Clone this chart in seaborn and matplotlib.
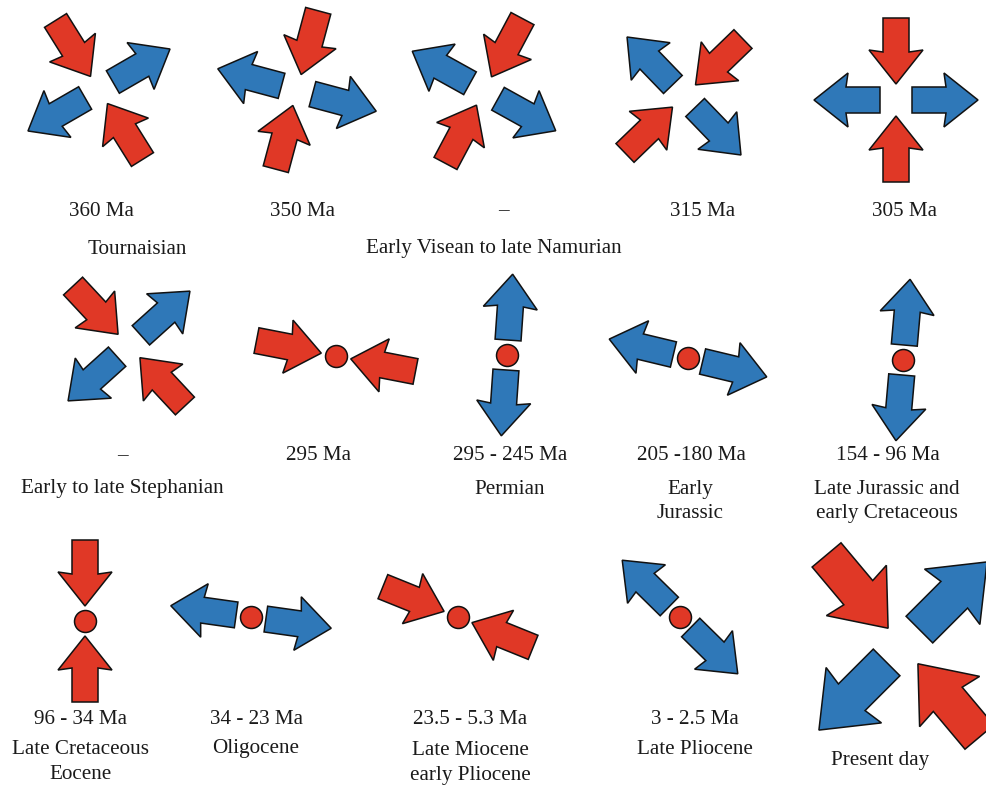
import numpy as np
import pandas as pd
import matplotlib
matplotlib.use("Agg")
import matplotlib.pyplot as plt
import seaborn as sns
from matplotlib.patches import Polygon

# ---------------- data ----------------
# stress-axis azimuths (degrees, counter-clockwise from east) per panel
compression_axis = [-58, 75, 62, 44, 90, -47, -11, None, None, None, 90, None, -22, None, -50]
extension_axis = [30, -15, -29, -46, 0, 42, None, 86, -13.5, 85, None, -8, None, -44.5, 45]
has_pole = [False, False, False, False, False, False, True, True, True, True,
            True, True, True, True, False]
age_labels = ["360 Ma", "350 Ma", "–", "315 Ma", "305 Ma",
              "–", "295 Ma", "295 - 245 Ma", "205 -180 Ma", "154 - 96 Ma",
              "96 - 34 Ma", "34 - 23 Ma", "23.5 - 5.3 Ma", "3 - 2.5 Ma", ""]
period_labels = ["Tournaisian", "Early Visean to late Namurian",
                 "Early to late Stephanian", "Permian", "Early\nJurassic",
                 "Late Jurassic and\nearly Cretaceous",
                 "Late Cretaceous\nEocene", "Oligocene", "Late Miocene\nearly Pliocene",
                 "Late Pliocene", "Present day"]

# ---------------- layout (pixel canvas) ----------------
W, H = 986, 786
panel_centers = [(99, 90), (297, 90), (484, 91), (684, 96), (896, 100),
                 (129, 346), (336, 356), (507, 355), (688, 358), (903, 360),
                 (85, 621), (251, 617), (458, 617), (680, 617), (903, 646)]
panel_scale = [1.0] * 14 + [1.45]
age_pos = [(101, 211), (302, 211), (503, 211), (703, 211), (904, 211),
           (122, 456), (318, 456), (510, 456), (691, 456), (888, 456),
           (81, 720), (256, 720), (470, 720), (695, 720), (880, 720)]
period_pos = [(137, 249), (494, 249), (122, 489), (510, 489), (690, 501.5),
              (887, 501.5), (81, 762), (256, 749), (470, 763), (695, 750), (880, 760)]

RED = "#E03826"
BLUE = "#2F78B8"
L0, SHAFT, HEADW, HEADL, SWEEP, RIN, RIN_POLE = 66, 26, 54, 32, 2, 16, 15

sns.set_theme(style="white")
plt.rcParams["font.family"] = ["Liberation Serif", "DejaVu Serif"]

fig = plt.figure(figsize=(W / 100, H / 100), dpi=100)
ax = fig.add_axes([0, 0, 1, 1])


def draw_arrow(tail, tip, k, color):
    tail = np.asarray(tail, float)
    tip = np.asarray(tip, float)
    d = tip - tail
    L = np.hypot(*d)
    d = d / L
    n = np.array([-d[1], d[0]])
    hl, w, hw, sw = HEADL * k, SHAFT * k, HEADW * k, SWEEP * k
    local = [(0, -w / 2), (L - hl, -w / 2), (L - hl - sw, -hw / 2), (L, 0),
             (L - hl - sw, hw / 2), (L - hl, w / 2), (0, w / 2)]
    pts = [tail + s * d + t * n for s, t in local]
    ax.add_patch(Polygon(pts, closed=True, facecolor=color, edgecolor="#111111",
                         linewidth=1.1, joinstyle="miter", zorder=2))


for i, (cx, cy) in enumerate(panel_centers):
    k = panel_scale[i]
    rin = (RIN_POLE if has_pole[i] else RIN) * k
    L = L0 * k
    c = np.array([cx, cy], float)
    if compression_axis[i] is not None:
        for a in (compression_axis[i], compression_axis[i] + 180):
            u = np.array([np.cos(np.radians(a)), -np.sin(np.radians(a))])
            draw_arrow(c + (rin + L) * u, c + rin * u, k, RED)
    if extension_axis[i] is not None:
        for a in (extension_axis[i], extension_axis[i] + 180):
            u = np.array([np.cos(np.radians(a)), -np.sin(np.radians(a))])
            draw_arrow(c + rin * u, c + (rin + L) * u, k, BLUE)

poles = pd.DataFrame([(x, y) for (x, y), p in zip(panel_centers, has_pole) if p],
                     columns=["x", "y"])
sns.scatterplot(data=poles, x="x", y="y", ax=ax, s=250, color=RED,
                edgecolor="#111111", linewidth=1.1, zorder=3, legend=False)
ax.set_xlim(0, W)
ax.set_ylim(H, 0)
ax.axis("off")

FS = 15.2
for txt, (x, y) in zip(age_labels, age_pos):
    if txt:
        ax.text(x, y, txt, ha="center", va="center", fontsize=FS, color="#1a1a1a")
for txt, (x, y) in zip(period_labels, period_pos):
    ax.text(x, y, txt, ha="center", va="center", fontsize=FS, color="#1a1a1a",
            linespacing=1.4)

fig.savefig("out.png", dpi=100)
